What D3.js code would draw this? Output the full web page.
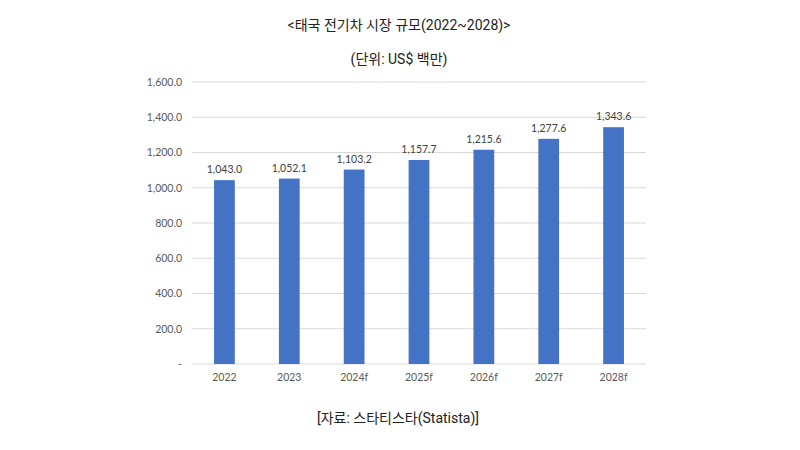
<!DOCTYPE html>
<html lang="ko">
<head>
  <meta charset="UTF-8">
  <title>태국 전기차 시장 규모</title>
  <script src="https://d3js.org/d3.v7.min.js"></script>
  <style>
    body { margin: 0; background: #fff; }
    svg { font-family: "Roboto", "Noto Sans CJK KR", sans-serif; }
    .tick text { font-family: "Lato", "Noto Sans", sans-serif; font-size: 10.5px; fill: #595959; }
    .val { font-family: "Lato", "Noto Sans", sans-serif; font-size: 10.5px; fill: #404040; }
    .ttl { font-size: 14px; fill: #222; }
  </style>
</head>
<body>
  <svg></svg>
  <script>
    const years = ['2022', '2023', '2024f', '2025f', '2026f', '2027f', '2028f'];
    const marketSize = [1043.0, 1052.1, 1103.2, 1157.7, 1215.6, 1277.6, 1343.6];
    const yTicks = [0, 200, 400, 600, 800, 1000, 1200, 1400, 1600];

    const data = years.map((y, i) => ({ year: y, value: marketSize[i] }));

    const W = 800, H = 450;
    const margin = { top: 82, right: 154, bottom: 86, left: 192 };
    const width = W - margin.left - margin.right;
    const height = H - margin.top - margin.bottom;

    const root = d3.select('svg').attr('width', W).attr('height', H);

    const svg = root.append('g')
        .attr('transform', `translate(${margin.left},${margin.top})`);

    const x = d3.scaleBand()
        .domain(years)
        .range([0, width])
        .paddingInner(0.68)
        .paddingOuter(0.34);

    const y = d3.scaleLinear()
        .domain([0, 1600])
        .range([height, 0]);

    const fmt = d3.format(',.1f');

    // grid
    svg.append('g')
        .selectAll('line')
        .data(yTicks)
        .enter()
        .append('line')
        .attr('x1', 0)
        .attr('x2', width)
        .attr('y1', d => y(d))
        .attr('y2', d => y(d))
        .attr('stroke', '#d9d9d9')
        .attr('stroke-width', 1);

    // y axis labels
    const yAxis = svg.append('g')
        .call(d3.axisLeft(y).tickValues(yTicks).tickSize(0).tickPadding(10)
            .tickFormat(d => d === 0 ? '-' : fmt(d)));
    yAxis.select('.domain').remove();

    // x axis labels
    const xAxis = svg.append('g')
        .attr('transform', `translate(0,${height})`)
        .call(d3.axisBottom(x).tickSize(0).tickPadding(10));
    xAxis.select('.domain').remove();

    svg.selectAll('.bar')
        .data(data)
        .enter()
        .append('rect')
        .attr('class', 'bar')
        .attr('x', d => x(d.year))
        .attr('y', d => y(d.value))
        .attr('width', x.bandwidth())
        .attr('height', d => height - y(d.value))
        .attr('fill', '#4472c4');

    svg.selectAll('.val')
        .data(data)
        .enter()
        .append('text')
        .attr('class', 'val')
        .attr('x', d => x(d.year) + x.bandwidth() / 2)
        .attr('y', d => y(d.value) - 7)
        .attr('text-anchor', 'middle')
        .text(d => fmt(d.value));

    root.append('text')
        .attr('class', 'ttl')
        .attr('x', 399)
        .attr('y', 30)
        .attr('text-anchor', 'middle')
        .text('<태국 전기차 시장 규모(2022~2028)>');

    root.append('text')
        .attr('class', 'ttl')
        .attr('x', 399)
        .attr('y', 64)
        .attr('text-anchor', 'middle')
        .text('(단위: US$ 백만)');

    root.append('text')
        .attr('class', 'ttl')
        .attr('x', 398)
        .attr('y', 423)
        .attr('text-anchor', 'middle')
        .text('[자료: 스타티스타(Statista)]');
  </script>
</body>
</html>
